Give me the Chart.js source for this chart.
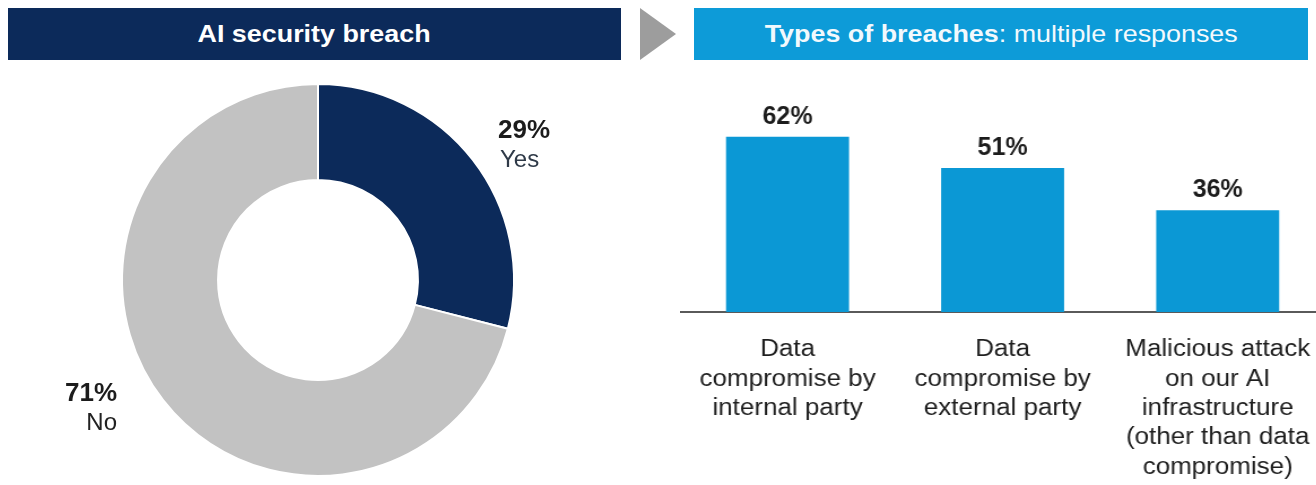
<!DOCTYPE html>
<html>
<head>
<meta charset="utf-8">
<script src="https://cdn.jsdelivr.net/npm/chart.js@4.4.0/dist/chart.umd.min.js"></script>
<style>
    body { margin: 0; background: #fff; width: 1316px; height: 485px; overflow: hidden; position: relative;
           font-family: "Liberation Sans", Arial, sans-serif; }
    .hdr { position: absolute; top: 8px; height: 52px; color: #fff; font-size: 24px;
           display: flex; align-items: center; justify-content: center; }
    .hdr span { display: inline-block; transform: scaleX(1.12); }
    #hdrLeft { left: 8px; width: 613px; background: #0c2a5a; font-weight: bold; }
    #hdrRight { left: 694px; width: 614px; background: #0d9bd8; color: #f2f9fd; }
    #arrow { position: absolute; left: 640px; top: 8px; width: 0; height: 0;
             border-left: 36px solid #9d9d9d; border-top: 26px solid transparent; border-bottom: 26px solid transparent; }
    #donutBox { position: absolute; left: 0; top: 60px; width: 640px; height: 425px; }
    #barBox { position: absolute; left: 680px; top: 0; width: 636px; height: 485px; overflow: hidden; }
    /* the source picture is a bit stretched sideways, so the bar panel is too */
    #barStretch { transform: scaleX(1.13); transform-origin: 0 0; width: 571px; height: 485px; }
</style>
</head>
<body>
<div class="hdr" id="hdrLeft"><span>AI security breach</span></div>
<div id="arrow"></div>
<div class="hdr" id="hdrRight"><span><b>Types of breaches</b>: multiple responses</span></div>

<div id="donutBox"><canvas id="donutChart" width="640" height="425"></canvas></div>
<div id="barBox"><div id="barStretch"><canvas id="barChart" width="571" height="485"></canvas></div></div>

<script>
// Donut: AI security breach
const breachLabels = ['Yes', 'No'];
const breachValues = [29, 71];
const breachColors = ['#0c2a5a', '#c2c2c2'];

// Bars: types of breaches
const typeLabels = [
    ['Data', 'compromise by', 'internal party'],
    ['Data', 'compromise by', 'external party'],
    ['Malicious attack', 'on our AI', 'infrastructure', '(other than data', 'compromise)']
];
const typeValues = [62, 51, 36];

const FONT = '"Liberation Sans", Arial, sans-serif';
const STRETCH = 1.13;

// where the donut callouts sit (canvas coords): x, first baseline, alignment
const calloutPos = [
    { x: 498, y: 78, align: 'left' },
    { x: 117, y: 341, align: 'right' }
];

const donutCallouts = {
    id: 'donutCallouts',
    afterDraw(chart) {
        const ctx = chart.ctx;
        const vals = chart.data.datasets[0].data;
        ctx.save();
        chart.data.labels.forEach((lab, i) => {
            const p = calloutPos[i];
            ctx.textAlign = p.align;
            ctx.textBaseline = 'alphabetic';
            ctx.fillStyle = '#1c1c1c';
            ctx.font = 'bold 26px ' + FONT;
            ctx.fillText(vals[i] + '%', p.x, p.y);
            ctx.fillStyle = i === 0 ? '#2f3a48' : '#222';
            ctx.font = '24px ' + FONT;
            ctx.fillText(lab, p.x + (p.align === 'left' ? 2 : 0), p.y + 29);
        });
        ctx.restore();
    }
};

new Chart(document.getElementById('donutChart'), {
    type: 'doughnut',
    data: {
        labels: breachLabels,
        datasets: [{
            data: breachValues,
            backgroundColor: breachColors,
            borderColor: '#fff',
            borderWidth: 2
        }]
    },
    options: {
        responsive: false,
        animation: false,
        cutout: '51%',
        layout: { padding: { left: 121, right: 125, top: 23, bottom: 8 } },
        plugins: { legend: { display: false }, tooltip: { enabled: false } }
    },
    plugins: [donutCallouts]
});

// value labels above bars, drawn un-stretched
const barValueLabels = {
    id: 'barValueLabels',
    afterDatasetsDraw(chart) {
        const ctx = chart.ctx;
        const meta = chart.getDatasetMeta(0);
        ctx.save();
        ctx.scale(1 / STRETCH, 1);
        ctx.font = 'bold 25px ' + FONT;
        ctx.fillStyle = '#1c1c1c';
        ctx.textAlign = 'center';
        ctx.textBaseline = 'alphabetic';
        meta.data.forEach((bar, i) => {
            ctx.fillText(chart.data.datasets[0].data[i] + '%', bar.x * STRETCH, bar.y - 13);
        });
        ctx.restore();
    }
};

new Chart(document.getElementById('barChart'), {
    type: 'bar',
    data: {
        labels: typeLabels,
        datasets: [{
            data: typeValues,
            backgroundColor: '#0b98d5',
            barPercentage: 0.572,
            categoryPercentage: 1
        }]
    },
    options: {
        responsive: false,
        animation: false,
        layout: { padding: { top: 86, left: 0, right: 0, bottom: 0 } },
        plugins: { legend: { display: false }, tooltip: { enabled: false } },
        scales: {
            x: {
                grid: { display: false, drawTicks: false },
                border: { display: true, color: '#5a5a5a', width: 2 },
                ticks: {
                    autoSkip: false,
                    maxRotation: 0,
                    padding: 23,
                    color: '#1e1e1e',
                    font: { family: FONT, size: 23, lineHeight: 1.28 }
                },
                afterFit(scale) {
                    scale.height = 173;
                    // labels may run past the edges, as in the source
                    scale.paddingLeft = 0;
                    scale.paddingRight = 0;
                }
            },
            y: { display: false, min: 0, max: 80 }
        }
    },
    plugins: [barValueLabels]
});
</script>
</body>
</html>
